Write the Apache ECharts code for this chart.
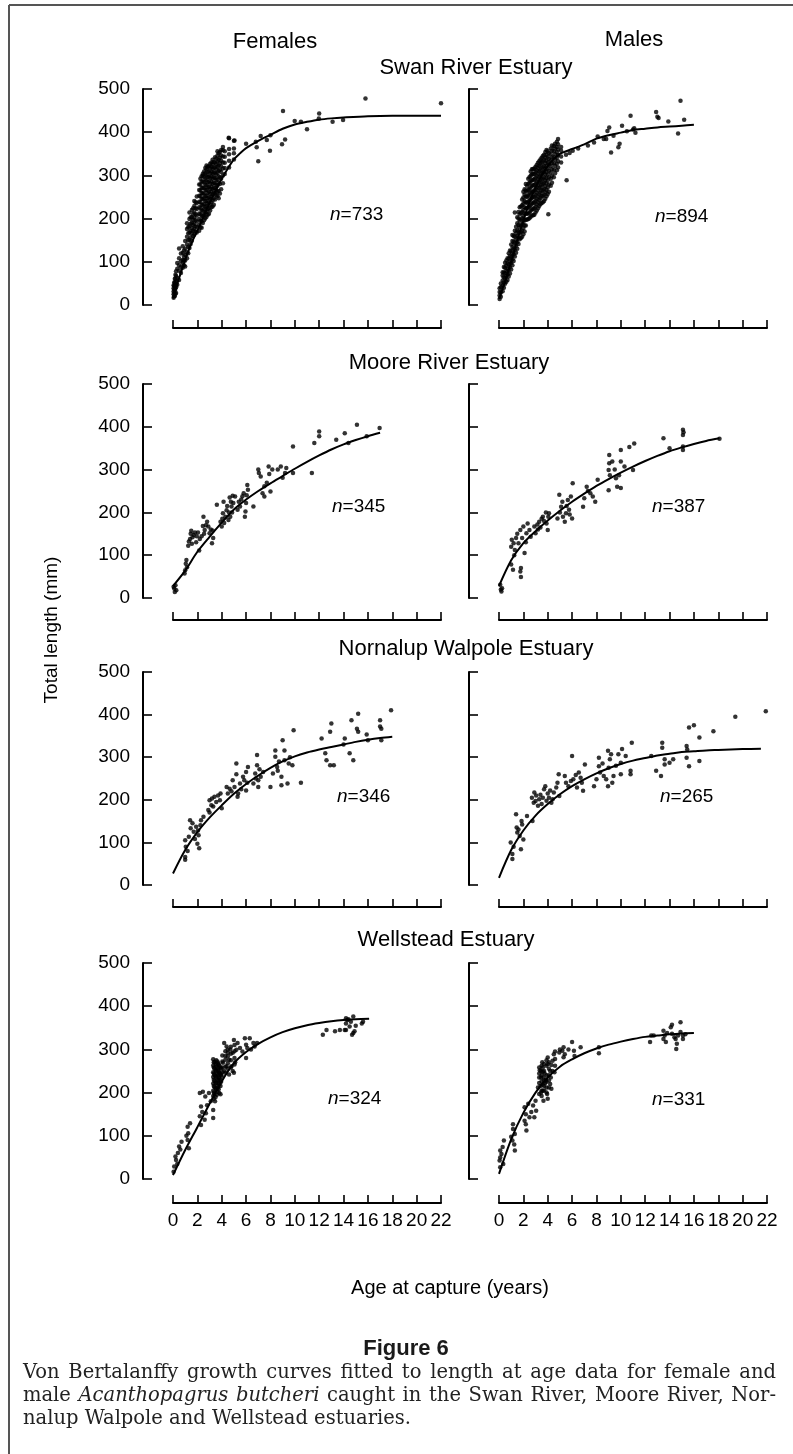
<!DOCTYPE html>
<html><head><meta charset="utf-8">
<script src="https://cdn.jsdelivr.net/npm/echarts@6/dist/echarts.min.js"></script>
<style>html,body{margin:0;padding:0;background:#fff}#c{width:793px;height:1454px}</style>
</head><body><div id="c"></div><script>
// ---------- DATA ----------
const estuaries = ['Swan River Estuary', 'Moore River Estuary', 'Nornalup Walpole Estuary', 'Wellstead Estuary'];
const sexes = ['Females', 'Males'];
const sampleSizes = [733, 894, 345, 387, 346, 265, 324, 331];
const xTickMax = 22, xTickStep = 2;
const yTickMax = 500, yTickStep = 100;

// points: [age, [lengths...]] or [age, length]
const swanFemalePts = [
 [0.05,[17,25,31,39,46]],[0.1,[20,28,36,44,52]],[0.15,[21,34,44,52,61]],[0.2,[26,38,50,60,70]],
 [0.25,[28,41,55,67,78]],[0.35,[47,63,84,97]],
 [0.5,[58,79,92,108,131]],[0.65,[74,88,101,119]],[0.8,[86,97,104,121,136]],[0.9,[92,104,112,126]],
 [1.0,[89,103,116,130,148]],[1.15,[108,122,140,158,176,189]],[1.25,[120,135,150,166,180]],
 [1.35,[132,151,168,183,199,214]],[1.45,[141,157,172,188,203]],[1.55,[149,166,178,191,203,220]],
 [1.65,[160,172,185,197,210,224]],[1.75,[163,176,188,202,214,229,241]],[1.85,[170,182,196,210,224,238]],
 [1.95,[168,181,193,207,222,236,251]],
 [2.15,[172,186,199,212,226,239,253,266,279]],[2.25,[180,195,210,224,238,252,265,279,292]],
 [2.35,[179,193,207,219,232,246,259,271,286,298]],[2.45,[190,204,218,231,245,258,272,286,300,304]],
 [2.55,[196,209,222,234,247,258,271,284,297,309]],[2.65,[201,214,227,240,252,266,279,292,305,317]],
 [2.75,[204,216,229,241,253,266,277,289,301,314,323]],[2.85,[209,222,235,247,259,272,284,297,309,320]],
 [2.95,[211,224,237,249,262,273,286,297,309,321]],[3.05,[219,232,245,257,269,281,294,305,317,327]],
 [3.15,[226,238,251,263,274,286,298,309,320,330]],[3.25,[228,242,256,268,280,292,304,315,326,336]],
 [3.35,[232,247,259,271,283,296,307,318,331]],[3.45,[244,258,270,282,294,306,318,330,342]],
 [3.55,[254,266,278,290,302,314,326,339]],[3.65,[252,262,276,290,306,320,333,346,356]],
 [3.75,[247,264,283,298,311,323,336,351]],[3.85,[258,280,296,313,328,341,354]],
 [3.95,[268,292,308,321,334,346,359]],[4.1,[282,300,316,330,344,358,366]],
 [4.25,[303,317,329,343,356]],[4.6,[318,334,349,361,386]],[5.0,[337,351,362,380]],
 [4.57,387],[5.05,381],[6.0,373],[6.8,378],[6.87,365],[7.0,333],[7.2,391],[7.7,382],[7.96,357],[8.0,393],
 [8.95,372],[9.2,383],[9.03,449],[9.99,426],[10.5,424],[11.0,407],[11.97,432],[12.0,443],[13.1,424],
 [13.96,428],[15.8,478],[22.0,467]
];
const swanFemaleCurve = [[0,15],[0.5,62],[1,104],[1.5,142],[2,172],[2.5,205],[3,236],[3.5,265],[4,292],[4.5,316],[5,337],[5.5,351],[6,363],[7,380],[8,394],[9,408],[10,418],[11,424],[12,429],[13,432],[14,434],[16,437],[18,438],[20,438],[22,438]];

const swanMalePts = [
 [0.05,[14,22,30,39]],[0.15,[19,29,41,50]],[0.3,[32,45,57,68,76]],[0.4,[40,52,64,75,88]],
 [0.5,[49,62,74,86,98]],[0.6,[54,67,79,91,103]],[0.7,[58,71,84,96,108]],[0.8,[66,80,94,107,120]],
 [0.9,[73,88,101,114,126]],[1.0,[82,97,111,125,140]],[1.1,[92,106,120,134,148,162]],[1.2,[102,117,131,146,160]],
 [1.3,[112,128,143,158,172,214]],[1.4,[121,137,151,166,181]],[1.5,[130,146,160,173,189,203]],
 [1.6,[141,156,170,185,200,215]],[1.7,[152,166,180,195,210,226]],[1.8,[155,169,184,198,213,228]],
 [1.9,[158,172,187,201,216,231,244]],[2.0,[164,178,192,206,220,235,249,262]],
 [2.1,[170,184,198,212,226,241,256,268]],[2.2,[184,197,211,224,238,251,265,280]],
 [2.3,[198,211,224,236,250,263,276]],[2.4,[199,212,226,239,253,266,280,292]],
 [2.5,[201,214,228,242,256,269,283,296]],[2.6,[204,218,231,245,259,272,286,299,309]],
 [2.7,[207,221,235,248,262,276,289,302,314]],[2.8,[208,222,236,250,263,277,290,303,315]],
 [2.9,[209,224,238,251,265,278,291,304,316]],[3.0,[214,228,242,255,269,282,295,308,320]],
 [3.1,[219,233,246,260,273,286,299,312,324]],[3.2,[224,238,251,265,278,291,304,317,329]],
 [3.3,[229,243,256,270,283,296,309,322,333]],[3.4,[233,247,260,273,286,299,312,325,337]],
 [3.5,[236,251,264,277,290,303,316,329,341]],[3.6,[238,253,266,280,293,306,319,332,345]],
 [3.7,[241,256,269,283,296,309,322,336,348]],[3.8,[246,261,275,288,302,315,328,341,354]],
 [3.9,[252,266,281,294,308,321,334,347,359]],[4.0,[257,272,288,302,316,330,343,356]],
 [4.05,210],[4.1,[262,279,296,311,325,338,352]],[4.25,[276,292,307,321,335,349,362]],
 [4.35,[283,299,314,328,342,357,369]],[4.5,[296,313,328,342,356,368]],[4.6,[305,322,336,349,362,373]],
 [4.75,[312,327,341,354,366,378]],[4.85,[318,333,347,360,372,384]],[5.1,[330,344,357,366]],
 [5.55,289],[5.5,348],[5.8,352],[6.05,357],[6.5,362],[7.3,369],[7.8,376],[8.1,390],[8.6,384],[8.8,384],
 [8.9,403],[9.05,411],[9.2,353],[9.4,392],[9.8,365],[9.9,373],[10.1,415],[10.5,402],[10.8,438],[11.0,406],
 [11.1,409],[11.2,399],[12.9,447],[13.0,436],[13.1,433],[13.9,425],[14.7,397],[14.9,473],[15.2,429]
];
const swanMaleCurve = [[0,14],[0.5,55],[1,100],[1.5,150],[2,195],[2.5,238],[3,272],[3.5,300],[4,322],[4.5,338],[5,350],[6,361],[7,372],[8,385],[9,393],[10,399],[11,405],[12,408],[13,411],[14,413],[15,415],[16,417]];

const mooreFemalePts = [
 [0.05,26],[0.15,14],[0.27,18],[0.2,30],[0.1,22],
 [1.0,65],[1.1,89],[0.95,57],[1.05,80],[1.15,72],
 [1.5,157],[1.8,153],[1.9,130],[1.25,122],[2.15,111],[1.4,138],[1.6,142],[2.2,138],[2.05,153],[1.3,132],
 [1.7,147],[1.55,127],[1.95,144],[1.45,150],
 [2.5,190],[2.8,178],[2.9,167],[3.0,151],[3.2,128],[3.3,140],[2.6,159],[2.35,144],[3.6,218],[2.7,170],
 [3.1,160],[2.45,168],[2.55,150],[3.25,158],
 [4.0,167],[4.1,198],[4.4,205],[4.7,190],[4.8,214],[4.95,222],[4.2,175],[4.55,182],[4.75,225],[4.15,225],
 [4.9,239],[5.1,237],[4.3,190],[4.6,200],[4.45,215],[4.05,185],[3.9,178],[4.85,200],[4.65,235],
 [5.5,214],[5.8,245],[6.1,264],[5.95,202],[5.9,190],[6.0,222],[5.6,230],[6.15,253],[5.3,206],[6.6,214],
 [5.4,225],[5.7,238],[6.05,240],
 [7.0,300],[7.2,284],[7.5,261],[7.7,269],[8.0,249],[8.15,300],[7.85,307],[7.5,237],[7.35,245],[7.05,292],[7.9,290],
 [8.6,300],[9.0,281],[9.3,304],[9.85,354],[9.85,292],[8.85,307],[9.2,292],
 [11.4,292],[11.6,362],[12.0,389],[12.0,378],[13.4,370],[14.1,385],[14.4,362],[15.1,405],[15.9,378],[16.96,397]
];
const mooreFemaleCurve = [[0,28],[1,64],[2,108],[3,143],[4,176],[5,207],[6,230],[7,250],[8,268],[9,285],[10,302],[11,318],[12,333],[13,347],[14,359],[15,369],[16,378],[17,386]];

const mooreMalePts = [
 [0.2,15],[0.25,23],[0.1,31],[0.15,20],
 [1.0,78],[1.15,66],[1.3,112],[1.0,120],[1.05,136],[1.4,140],[1.8,70],[1.8,49],[1.75,62],[1.6,128],[1.75,159],
 [2.1,105],[2.25,151],[2.0,167],[2.35,174],[2.5,159],[2.6,143],[1.25,100],[1.5,150],[1.2,128],[2.2,130],[1.9,140],
 [2.9,167],[3.3,178],[3.6,190],[4.0,159],[4.1,198],[3.9,174],[3.0,151],[4.05,190],[3.4,165],[3.7,180],
 [3.15,172],[3.85,200],[3.5,185],[3.2,160],
 [4.95,241],[5.1,213],[5.25,190],[5.5,198],[5.65,229],[5.9,237],[6.05,268],[6.0,186],[5.4,178],[4.8,186],
 [5.75,206],[5.2,225],[5.0,200],[5.55,215],[5.8,195],
 [6.9,213],[7.0,233],[7.2,260],[7.5,245],[7.9,225],[8.1,276],[7.7,237],[7.3,250],
 [9.05,334],[9.05,315],[9.0,299],[9.1,287],[9.0,252],[9.3,319],[9.7,260],[9.85,287],[10.0,319],[10.3,307],
 [10.0,257],[11.0,299],[9.5,300],[9.6,280],
 [10.0,346],[10.7,353],[11.1,361],[13.5,373],[14.0,350],[15.1,393],[15.1,381],[15.1,354],[15.1,346],[15.15,387],[18.1,372]
];
const mooreMaleCurve = [[0,28],[1,88],[2,128],[3,156],[4,181],[5,204],[6,225],[7,244],[8,262],[9,278],[10,293],[11,307],[12,320],[13,332],[14,343],[15,352],[16,360],[17,367],[18.1,373]];

const nornFemalePts = [
 [1.0,59],[1.0,105],[1.05,90],[1.4,152],[1.45,133],[1.7,125],[1.9,137],[2.0,97],[2.15,86],[2.1,117],[2.3,152],
 [2.5,160],[1.3,113],[1.0,66],[1.2,80],[1.6,145],[1.8,108],[2.05,128],[2.25,140],
 [3.0,199],[3.3,184],[3.4,207],[3.85,199],[3.15,187],[3.7,210],[4.0,180],[2.9,176],[3.55,195],[3.2,203],[3.9,215],[3.0,170],
 [4.65,226],[4.9,246],[5.2,285],[5.35,215],[5.5,238],[5.75,254],[6.0,265],[6.15,277],[6.0,222],[5.05,230],[4.5,215],
 [5.3,207],[5.85,246],[4.8,220],[5.6,225],[6.1,240],[5.2,260],[4.4,230],
 [6.9,305],[6.9,281],[6.75,262],[7.0,246],[7.0,230],[6.6,238],[7.2,254],[7.4,265],[6.8,250],[7.1,272],
 [8.0,230],[8.2,262],[8.4,301],[8.55,277],[8.9,254],[9.0,340],[9.15,316],[9.15,293],[9.5,285],[9.8,281],[8.9,234],
 [9.4,238],[9.9,363],[10.5,240],[8.4,316],[8.7,290],[8.6,268],[9.6,300],
 [12.2,344],[12.5,309],[12.6,293],[12.9,281],[13.0,379],[12.9,360],[13.2,281],[14.1,344],[14.5,309],[14.8,293],
 [14.65,387],[15.2,402],[15.1,367],[15.2,360],[15.9,353],[17.0,387],[17.1,367],[17.1,340],[17.9,410],[17.0,372],[14.0,330],[16.0,340]
];
const nornFemaleCurve = [[0,27],[1,82],[2,124],[3,158],[4,187],[5,214],[6,237],[7,257],[8,275],[9,290],[10,302],[11,311],[12,318],[13,324],[14,330],[15,336],[16,341],[17,345],[18,348]];

const nornMalePts = [
 [0.96,100],[1.1,73],[1.1,61],[1.4,166],[1.45,135],[1.5,123],[1.7,115],[1.8,84],[1.85,150],[1.9,142],[2.0,107],
 [2.3,162],[2.75,150],[1.2,90],[1.6,130],
 [2.7,205],[2.9,217],[3.2,186],[3.3,201],[3.7,225],[3.8,232],[4.1,205],[4.3,193],[4.5,217],[4.7,229],[4.8,240],
 [4.9,260],[4.95,209],[4.4,201],[3.0,197],[3.5,190],[3.05,210],[3.6,205],[4.0,215],[3.4,212],[4.2,222],[2.85,193],[3.9,198],
 [5.4,256],[5.7,232],[6.0,303],[6.1,248],[6.4,229],[6.7,252],[6.8,240],[6.9,221],[7.05,283],[6.55,264],[5.9,244],[5.5,240],[6.3,258],
 [7.8,232],[8.0,248],[8.2,299],[8.2,279],[8.3,264],[8.6,256],[8.8,248],[8.95,232],[8.95,315],[9.1,295],[9.2,307],
 [9.3,240],[9.4,256],[9.8,307],[10.0,287],[10.0,260],[10.1,319],[10.4,303],[10.8,268],[10.8,260],[10.9,334],[8.5,285],[9.0,275],[9.6,280],
 [12.5,303],[12.9,268],[13.3,256],[13.4,334],[13.4,322],[13.6,283],[13.6,295],[14.0,287],[14.3,295],[15.4,326],
 [15.45,318],[15.4,299],[15.6,279],[15.6,370],[16.0,375],[16.45,346],[16.45,291],[17.6,361],[19.4,395],[21.9,408]
];
const nornMaleCurve = [[0,17],[1,82],[2,128],[3,163],[4,190],[5,213],[6,232],[7,248],[8,262],[9,274],[10,284],[11,292],[12,298],[13,304],[14,308],[15,312],[16,314],[17,316],[18,317],[19,318],[20,319],[21.5,320]];

const wellFemalePts = [
 [0.1,29],[0.25,44],[0.4,60],[0.5,75],[0.05,17],[0.7,86],[0.2,52],[0.35,35],[0.6,68],
 [1.2,121],[1.25,106],[1.2,90],[1.3,71],[1.4,129],[1.1,100],
 [2.2,199],[2.45,202],[2.3,168],[2.2,145],[2.3,125],[2.6,137],[2.7,152],[2.8,171],[2.95,199],[3.1,180],[3.3,160],
 [3.3,141],[2.65,191],[2.4,155],
 [3.3,[277,263,247,236,221,204,192]],[3.35,[270,258,244,230,215,200,186]],[3.4,[271,256,241,227,213,197]],
 [3.5,[266,252,238,222,210,190]],[3.55,[275,261,250,235,223,208]],[3.65,[272,258,244,230,216,202]],
 [3.7,[268,253,241,227,212]],[3.75,[265,250,236,222,208]],[3.8,[262,246,233,219,199]],[3.9,[258,244,230,215]],
 [3.95,[256,241,225]],[4.05,[286,272,258,247]],[3.45,180],[3.6,195],
 [4.2,315],[4.4,307],[4.5,292],[4.6,276],[4.8,261],[4.9,250],[5.0,246],[4.4,261],[4.6,242],[5.2,299],[5.3,315],
 [5.5,303],[5.0,322],[4.9,292],[4.1,269],[4.0,238],[3.9,196],[4.3,285],[4.7,300],[5.1,270],[4.2,250],
 [4.3,[296,276,260,246]],[4.5,[300,284,268,255]],[4.75,[306,290,275,258]],[5.05,[310,296,280,265]],
 [5.9,326],[6.0,311],[6.1,303],[6.0,280],[6.3,326],[6.6,315],[6.7,307],[6.9,315],[5.7,295],[6.4,300],
 [12.3,334],[12.6,345],[13.3,342],[13.7,345],[14.2,372],[14.2,360],[14.2,345],[14.3,368],[14.6,364],[14.8,376],
 [14.8,338],[14.9,342],[15.6,364],[15.5,360],[14.5,353],[14.1,345],[14.7,334],[14.4,370],[15.0,355]
];
const wellFemaleCurve = [[0,9],[1,67],[2,120],[3,174],[4,226],[5,268],[6,294],[7,313],[8,328],[9,340],[10,349],[11,356],[12,361],[13,365],[14,368],[15,370],[16.1,371]];

const wellMalePts = [
 [0.1,27],[0.1,50],[0.1,66],[0.3,74],[0.4,89],[0.05,43],[0.2,58],[0.35,35],
 [1.15,127],[1.15,116],[1.3,104],[1.3,66],[1.1,89],[1.25,80],[1.0,98],
 [2.1,166],[2.2,150],[2.2,127],[2.25,112],[2.4,174],[2.65,155],[2.8,170],[2.9,143],[3.0,181],[3.05,158],[2.1,135],[2.5,143],
 [3.2,212],[3.3,235],[3.45,250],[3.6,258],[3.65,235],[3.9,212],[3.95,197],[4.0,186],[4.2,220],[4.25,235],[4.2,250],
 [4.0,266],[4.0,281],[4.4,274],[4.5,289],[3.3,197],[3.6,204],[3.65,181],[4.3,209],[4.4,250],[4.55,247],[3.5,226],
 [3.75,244],[3.8,222],[3.4,215],[4.1,240],[3.55,270],[3.7,205],[4.3,264],[3.35,252],[3.9,275],[3.85,230],
 [3.3,[222,244,258]],[3.5,[240,262,205,192]],[3.7,[250,266,228,215]],[3.9,[262,240,225,200]],
 [4.1,[270,255,228,212]],[3.45,[200,235]],[4.6,[262,278,295]],[3.6,[248,218]],
 [4.95,293],[5.2,297],[5.3,305],[5.4,289],[6.0,317],[6.15,297],[6.2,285],[6.7,305],[5.3,282],[5.7,300],[5.0,300],
 [8.2,305],[8.2,291],
 [12.4,317],[12.5,332],[12.7,332],[13.5,343],[13.5,324],[13.6,332],[13.7,317],[14.1,351],[14.2,336],[14.4,328],
 [14.5,324],[14.6,313],[14.55,301],[14.7,332],[14.9,363],[14.9,340],[15.1,324],[15.1,332],[14.2,357],[13.8,338],[15.3,335]
];
const wellMaleCurve = [[0,12],[1,92],[2,153],[3,200],[4,235],[5,260],[6,277],[7,291],[8,302],[9,311],[10,318],[11,324],[12,329],[13,332],[14,335],[15,337],[16,338]];

const captionLines = [
  'Von Bertalanffy growth curves fitted to length at age data for female and',
  'male *Acanthopagrus* *butcheri* caught in the Swan River, Moore River, Nor-',
  'nalup Walpole and Wellstead estuaries.'
];

// ---------- LAYOUT ----------
const FONT = "'Liberation Sans', Arial, Helvetica, sans-serif";
const CAP_FONT = "'DejaVu Serif', serif";
const CAP_SIZE = 19.5;
const ROW_TOP = [89, 384, 672, 963];
const ROW_H = [216, 214, 213, 216];
const X_OFF = [23, 22, 22, 24];
const COL_LEFT = [173, 499];
const PLOT_W = 268;

function expand(cols) {
  const out = [];
  for (const [a, v] of cols) {
    if (Array.isArray(v)) { for (const l of v) out.push([a, l]); }
    else out.push([a, v]);
  }
  return out;
}

const panels = [
  [swanFemalePts, swanFemaleCurve], [swanMalePts, swanMaleCurve],
  [mooreFemalePts, mooreFemaleCurve], [mooreMalePts, mooreMaleCurve],
  [nornFemalePts, nornFemaleCurve], [nornMalePts, nornMaleCurve],
  [wellFemalePts, wellFemaleCurve], [wellMalePts, wellMaleCurve]
];

const grid = [], xAxis = [], yAxis = [], series = [];
panels.forEach(([pts, curve], i) => {
  const r = Math.floor(i / 2), c = i % 2;
  grid.push({left: COL_LEFT[c], top: ROW_TOP[r], width: PLOT_W, height: ROW_H[r]});
  xAxis.push({type: 'value', gridIndex: i, min: 0, max: xTickMax, interval: xTickStep, offset: X_OFF[r],
    axisLine: {show: true, onZero: false, lineStyle: {color: '#000', width: 2}},
    axisTick: {show: true, inside: true, length: 8, lineStyle: {color: '#000', width: 1.6}},
    axisLabel: {show: r === 3, color: '#000', fontSize: 19, fontFamily: FONT, margin: 8},
    splitLine: {show: false}});
  yAxis.push({type: 'value', gridIndex: i, min: 0, max: yTickMax, interval: yTickStep, offset: 30,
    axisLine: {show: true, onZero: false, lineStyle: {color: '#000', width: 2}},
    axisTick: {show: true, inside: true, length: 9, lineStyle: {color: '#000', width: 1.6}},
    axisLabel: {show: c === 0, color: '#000', fontSize: 19, fontFamily: FONT, margin: 13},
    splitLine: {show: false}});
  series.push({type: 'scatter', xAxisIndex: i, yAxisIndex: i, data: expand(pts), symbol: 'circle',
    symbolSize: 4.5, itemStyle: {color: '#000'}, silent: true, z: 2});
  series.push({type: 'line', xAxisIndex: i, yAxisIndex: i, data: curve, showSymbol: false, smooth: 0.3,
    lineStyle: {color: '#000', width: 2}, silent: true, z: 3});
});

function txt(str, x, y, size, opt) {
  opt = opt || {};
  return {type: 'text', x: x, y: y, rotation: opt.rotation || 0, silent: true,
    style: Object.assign({text: str, fontSize: size, fontFamily: FONT, fill: '#000',
      textAlign: 'center', textVerticalAlign: 'middle'}, opt.style || {})};
}
const nPos = [[330, 215], [655, 217], [332, 507], [652, 507], [337, 797], [660, 797], [328, 1099], [652, 1100]];
const titlePos = [[476, 68], [449, 363], [466, 649], [446, 940]];

const graphic = [
  {type: 'line', shape: {x1: 9, y1: 5, x2: 9, y2: 1454}, style: {stroke: '#555', lineWidth: 2}, silent: true},
  {type: 'line', shape: {x1: 9, y1: 5, x2: 793, y2: 5}, style: {stroke: '#555', lineWidth: 2}, silent: true},
  txt(sexes[0], 275, 42, 22), txt(sexes[1], 634, 40, 22),
  txt('Total length (mm)', 52, 630, 19, {rotation: Math.PI / 2}),
  txt('Age at capture (years)', 450, 1288, 20),
  txt('Figure 6', 406, 1349, 22, {style: {fontWeight: 'bold', fill: '#1a1a1a'}})
];
estuaries.forEach((t, r) => graphic.push(txt(t, titlePos[r][0], titlePos[r][1], 22)));
sampleSizes.forEach((n, i) => graphic.push({type: 'text', x: nPos[i][0], y: nPos[i][1], silent: true,
  style: {text: '{i|n}=' + n, fontSize: 19, fontFamily: FONT, fill: '#000', textAlign: 'left', textVerticalAlign: 'middle',
    rich: {i: {fontStyle: 'italic', fontSize: 19, fontFamily: FONT, fill: '#000'}}}}));

// caption, justified like the printed figure legend
const mctx = document.createElement('canvas').getContext('2d');
const CAP_LEFT = 23, CAP_RIGHT = 776, CAP_Y = [1373, 1396, 1419];
captionLines.forEach((line, li) => {
  const words = line.split(' ').map(w => {
    const it = /^\*.*\*$/.test(w);
    const t = it ? w.slice(1, -1) : w;
    mctx.font = (it ? 'italic ' : '') + CAP_SIZE + 'px ' + CAP_FONT;
    return {t, it, w: mctx.measureText(t).width};
  });
  const total = words.reduce((s, w) => s + w.w, 0);
  mctx.font = CAP_SIZE + 'px ' + CAP_FONT;
  const space = mctx.measureText(' ').width;
  const justify = li < captionLines.length - 1;
  const gap = justify ? (CAP_RIGHT - CAP_LEFT - total) / (words.length - 1) : space;
  let x = CAP_LEFT;
  words.forEach(w => {
    graphic.push({type: 'text', x: x, y: CAP_Y[li], silent: true,
      style: {text: w.t, fontSize: CAP_SIZE, fontFamily: CAP_FONT, fontStyle: w.it ? 'italic' : 'normal',
        fill: '#222', textAlign: 'left', textVerticalAlign: 'middle'}});
    x += w.w + gap;
  });
});

const chart = echarts.init(document.getElementById('c'), null, {renderer: 'canvas'});
chart.setOption({animation: false, backgroundColor: '#fff', grid, xAxis, yAxis, series, graphic});
</script></body></html>
